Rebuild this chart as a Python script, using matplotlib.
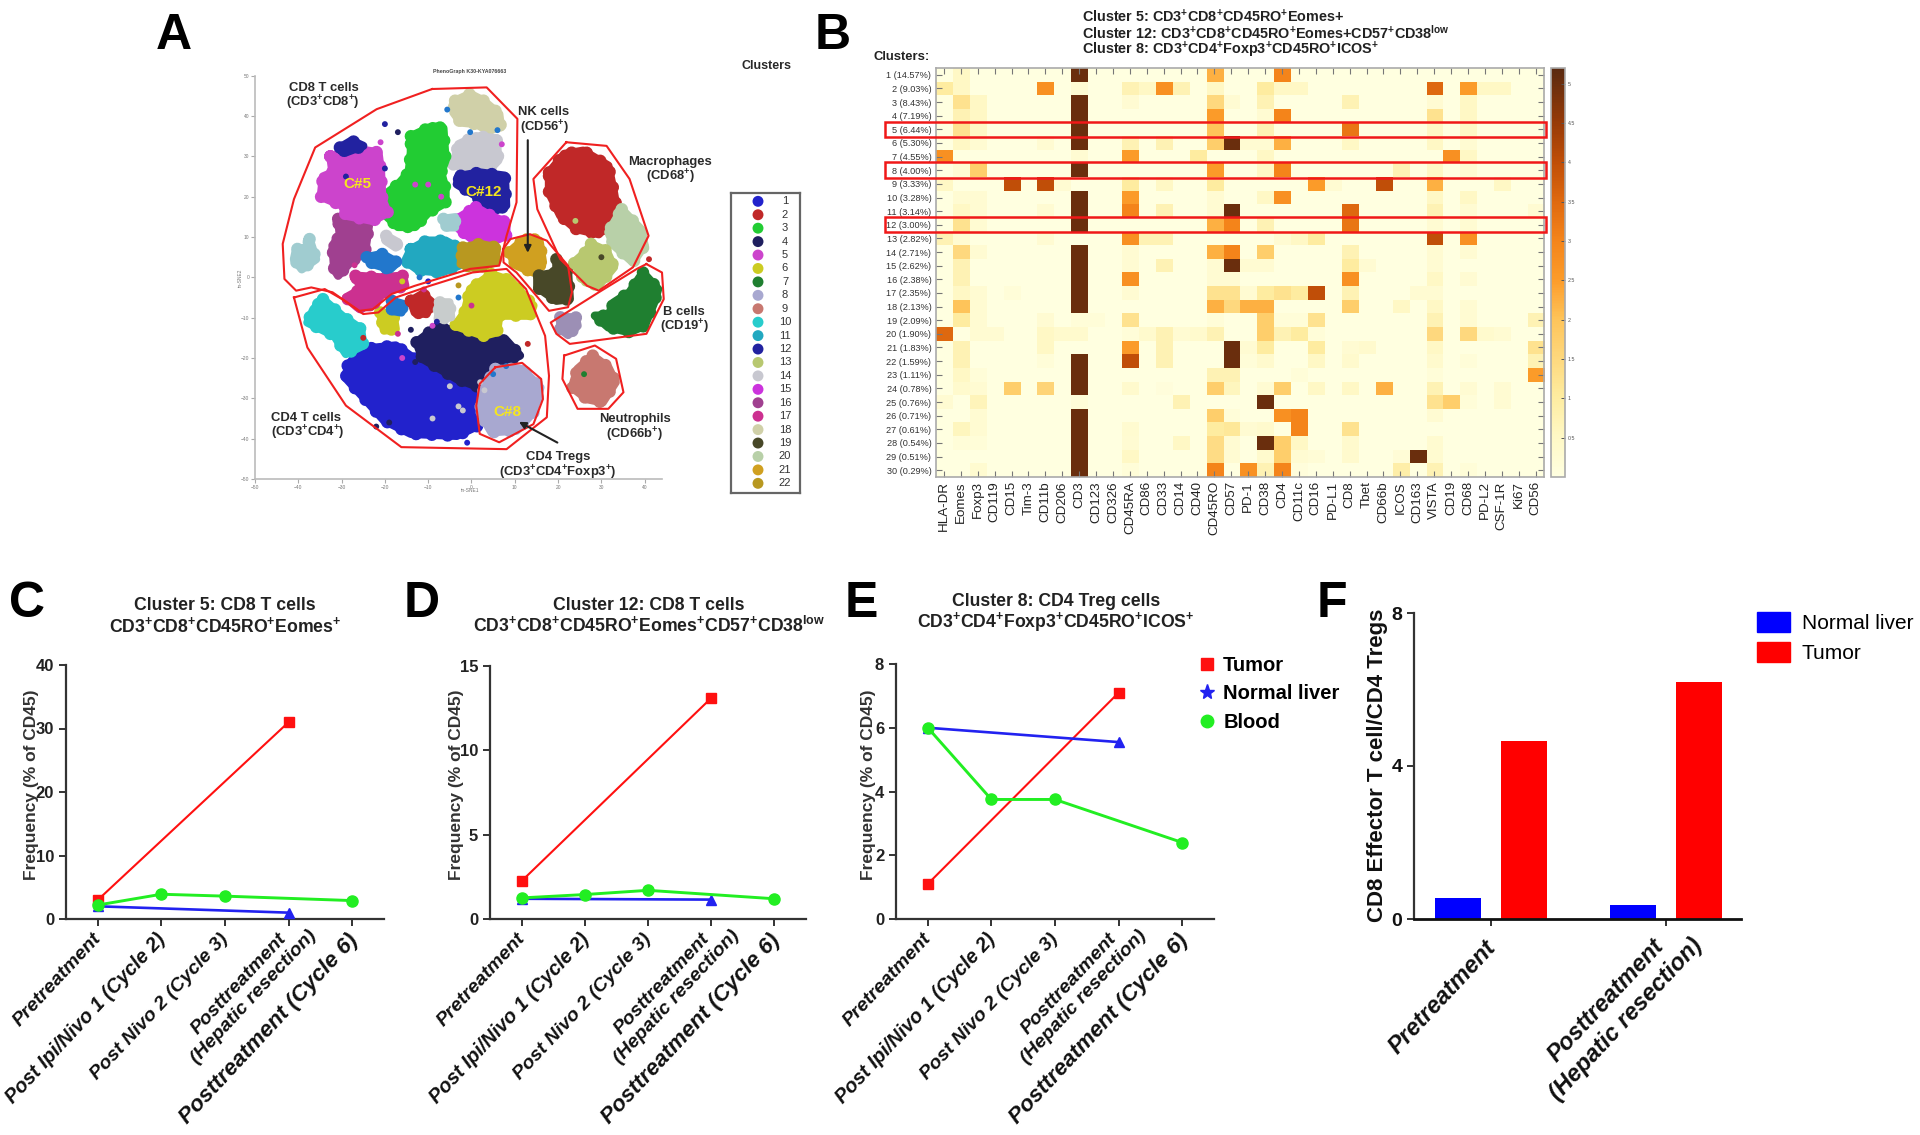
import numpy as np
import matplotlib
matplotlib.use("Agg")
import matplotlib.pyplot as plt
from matplotlib.colors import LinearSegmentedColormap
from matplotlib.lines import Line2D
from matplotlib.patches import Rectangle, Patch

plt.rcParams['font.family'] = ['Liberation Sans', 'DejaVu Sans']
plt.rcParams['mathtext.fontset'] = 'custom'
plt.rcParams['mathtext.rm'] = 'Liberation Sans'
plt.rcParams['mathtext.bf'] = 'Liberation Sans:bold'
plt.rcParams['mathtext.it'] = 'Liberation Sans:italic'

W, H = 1920, 1135
# ---------------------------------------------------------------- data
MARKERS = ["HLA-DR","Eomes","Foxp3","CD119","CD15","Tim-3","CD11b","CD206","CD3","CD123","CD326","CD45RA",
           "CD86","CD33","CD14","CD40","CD45RO","CD57","PD-1","CD38","CD4","CD11c","CD16","PD-L1","CD8","Tbet",
           "CD66b","ICOS","CD163","VISTA","CD19","CD68","PD-L2","CSF-1R","Ki67","CD56"]
ROW_LABELS = ["1 (14.57%)","2 (9.03%)","3 (8.43%)","4 (7.19%)","5 (6.44%)","6 (5.30%)","7 (4.55%)","8 (4.00%)",
              "9 (3.33%)","10 (3.28%)","11 (3.14%)","12 (3.00%)","13 (2.82%)","14 (2.71%)","15 (2.62%)","16 (2.38%)",
              "17 (2.35%)","18 (2.13%)","19 (2.09%)","20 (1.90%)","21 (1.83%)","22 (1.59%)","23 (1.11%)","24 (0.78%)",
              "25 (0.76%)","26 (0.71%)","27 (0.61%)","28 (0.54%)","29 (0.51%)","30 (0.29%)"]
# expression per cluster row, {marker column: value in half colour-bar units}
HEAT_CELLS = [
 {1:1,8:10,16:4.5,20:6},
 {0:2,1:1,6:5.5,8:.5,11:1.5,12:1,13:5.5,14:1.5,16:1,19:2,20:1,21:1,29:7,31:5,32:1,33:1},
 {1:2.5,2:1,8:10,11:.5,16:3,17:.5,19:1.5,24:1.5,29:.5,31:1},
 {1:1.5,2:1,8:10,16:5,19:.5,20:6,29:2.5,31:1},
 {1:2.5,2:1,8:10,16:4,19:1.5,24:6.5,29:1,31:1},
 {1:1,2:.5,6:.5,8:10,11:1.5,13:1.5,16:3.5,17:10,18:.5,19:.5,20:4.5,24:1,29:1,31:.5},
 {0:5.5,8:.5,11:5,15:2,19:1,30:5.5,31:1},
 {1:.5,2:3.5,8:10,16:5,19:1,20:6,27:1.5,29:1,31:.5},
 {0:1,4:8,6:8,7:.5,11:2,13:1,16:2,22:5,23:.5,26:8,29:4.5,33:1},
 {1:.5,2:.5,8:10,11:5,16:.5,19:1,20:5.5,29:1,31:1},
 {1:1,2:.5,6:.5,8:10,11:6,13:1.5,16:.5,17:10,24:7,29:1.5,31:.5,35:.5},
 {1:2.5,2:.5,8:10,16:4.5,17:6,19:1.5,24:6.5,29:.5,31:.5},
 {0:1.5,1:.5,6:.5,11:5.5,12:1.5,13:1.5,20:.5,21:1,22:2,29:8,31:5.5},
 {1:3,2:.5,8:10,11:.5,16:4.5,17:6,19:3.5,24:1.5,29:.5,31:.5},
 {1:1.5,8:10,11:.5,13:1.5,16:.5,17:10,18:.5,19:.5,24:2,25:.5,29:.5},
 {1:1.5,8:10,11:5.5,16:.5,17:.5,24:5.5,29:1,31:.5},
 {1:1,2:.5,4:.3,8:10,11:.5,16:2.5,17:2.5,18:.5,19:2,20:2.5,21:2,22:8,24:1.5,28:.5,29:.5},
 {1:4,2:.5,8:10,16:4.5,17:3,18:4.5,19:4.5,24:3.5,27:1,29:1,31:.5},
 {1:2,2:.5,6:.5,8:.3,9:.3,11:2.5,16:.3,19:3.5,20:.3,21:.3,22:2.5,29:1.5,31:.5,35:1.5},
 {0:7,2:.5,3:.5,6:1,7:.7,8:.7,11:.3,12:.7,13:1.5,14:.5,15:.7,16:1.5,19:3.5,20:1.5,21:2,22:.3,29:3,31:3,32:.7,33:.5},
 {1:1.5,6:1,11:5,13:1.5,17:10,18:.5,19:2,22:2,24:.5,25:.7,29:1,35:2.5},
 {1:1.5,6:.3,8:10,11:8,13:1.5,17:10,18:.3,19:.7,22:1,24:.7,29:.7,31:.3,35:1.5},
 {1:1,2:.3,8:10,16:1.5,17:1.5,21:.3,29:.3,35:5},
 {1:.7,2:.5,4:3.5,6:3.2,8:10,11:.7,13:.2,16:3.5,17:1.2,19:.5,20:3.5,22:1,24:1,26:4.5,29:1.5,31:.5,33:.5},
 {0:.5,2:1.3,8:.3,14:1.5,19:10,29:2.5,30:3.5,31:.3,33:.5},
 {2:.5,8:10,16:3.5,17:.3,20:5.5,21:6,29:.5},
 {1:1.2,2:.5,8:10,11:.6,16:2,17:2.2,18:.5,19:.7,21:6,24:2.5},
 {1:.3,2:.3,8:10,11:.5,14:1,16:2.8,17:.5,19:10,20:3.5,21:1,24:.7,29:.6},
 {8:10,11:1,16:2.8,17:.5,19:.7,20:3.5,21:.5,22:.4,24:.7,27:.4,28:10,29:.6},
 {2:.6,8:10,11:.3,16:6,18:5.5,19:1.5,20:6,21:.2,27:1.8,29:1.5,31:.3},
]
HIGHLIGHT_ROWS = [5, 8, 12]

CLUSTER_IDS = list(range(1, 23))
CLUSTER_COLORS = ['#2222CC','#C02828','#22CC33','#1F1F5F','#CC44CC','#CCCC22','#1F7F30','#A8A8D0','#C87870','#28CCCC',
                  '#22A8C0','#2222A0','#B8C870','#C8C8D0','#CC33DD','#A04090','#CC3090','#D0D0A8','#484828','#B8D0A8',
                  '#D0A020','#B89820']
BLOBS = [
 ('#2222CC',[(-28.6,-21.9),(-25.5,-17.8),(-17.5,-16.9),(-13.1,-20.2),(-6,-24.4),(1.9,-27.7),(1.5,-36.8),(-3.4,-39.3),(-14,-38.8),(-20.2,-35.5),(-24.6,-30.2),(-29,-25)]),
 ('#1F1F5F',[(-12.7,-16.1),(-7.8,-12),(1.1,-14.9),(8.1,-15.7),(11.2,-19.4),(6.4,-21.9),(1.9,-27.3),(-3.4,-25.2),(-11.3,-20.2)]),
 ('#A8A8D0',[(5.5,-22.7),(11.7,-22.7),(15.9,-27.3),(14.3,-33.5),(10.4,-38),(4.6,-38.4),(1.9,-33.5),(2.8,-27.7)]),
 ('#D0D0A8',[(-3.8,43.8),(-.3,45.5),(2.8,43.8),(6.4,40.5),(6.8,37.2),(3.7,36.4),(1.1,38),(-2.5,38.4),(-4.2,40.9)]),
 ('#C8C8D0',[(-4.2,28),(-3,33),(1,35),(5.8,34.5),(6.2,29),(4,26.5),(1,25.5),(-1.5,27)]),
 ('#22CC33',[(-14,35),(-9,37.5),(-6.5,37),(-6,29),(-7,26),(-6,22),(-6,18.5),(-10,16),(-13,12.5),(-17,12.5),(-20.5,16),(-20,20.5),(-17,23),(-14.5,26),(-14,31)]),
 ('#A04090',[(-30.8,14.5),(-24.2,15.3),(-23.7,12.8),(-24.6,6.2),(-28,3.7),(-30.8,.4),(-31.7,2),(-32.1,7.9),(-30.4,10.3)]),
 ('#CC44CC',[(-32.6,30),(-26.4,31.8),(-21.5,31),(-20.9,26),(-20.6,19.4),(-19.3,16),(-22.8,14),(-29,15.3),(-29.9,17.8),(-34.8,20),(-34.3,25),(-32.1,26)]),
 ('#2222A0',[(-30.4,32.2),(-27.7,33.9),(-25,32.6),(-29,31)]),
 ('#2222A0',[(-2.5,25.2),(1.9,26),(7.7,25.2),(8,17.8),(4.6,16),(1,20.2),(-3.4,23.1)]),
 ('#CC33DD',[(1,17.4),(3.7,15.7),(8.1,13.6),(8,10.3),(4.6,8.7),(1,8.7),(-2.9,12),(-3.4,14.5)]),
 ('#22A8C0',[(-14,7),(-10.4,9.1),(-6,9.1),(-2.5,7),(-2.9,2.9),(-6.9,1.2),(-12.2,1.7),(-15.3,4.1)]),
 ('#B89820',[(-2,7.4),(1.9,8.3),(5.9,7.4),(5.5,3.7),(1.1,2.2),(-2.5,3.3)]),
 ('#D0A020',[(8.6,6.2),(12.6,9.9),(15.7,9.1),(16.5,3.7),(14.3,1.2),(10.4,2.9)]),
 ('#484828',[(19.6,4.5),(22.3,1.2),(22.7,-5.4),(19.6,-5.8),(15.2,-2.5),(15.2,.4),(19.6,1.2)]),
 ('#C02828',[(17.9,26),(21.4,30.6),(25.8,31.4),(31.6,27.7),(32.9,21),(33.8,15.3),(29.4,10.7),(24.1,12),(20.5,15.3),(17.9,21)]),
 ('#B8D0A8',[(34.7,16.9),(39.1,12),(40,7.9),(37.3,3.7),(32.9,7.9),(31.6,11.2)]),
 ('#B8C870',[(27.6,8.3),(31.2,6.6),(32.9,2.5),(29.4,-2),(26.3,-1.2),(23.6,3.7),(26.3,6.2)]),
 ('#1F7F30',[(39.6,1.2),(43.1,-2.9),(42.2,-6.2),(40,-12),(36.5,-13.6),(31.6,-12.4),(28.5,-9.5),(31.6,-9.5),(32.9,-6.2),(36.5,-3.7)]),
 ('#C87870',[(28,-19.4),(31.6,-22.3),(33.3,-26),(30.3,-31),(26.7,-30.2),(23.2,-27.3),(24.5,-22.7)]),
 ('#9C8FB5',[(20.5,-9.9),(24.1,-9.9),(24.5,-12),(22.3,-14.3),(20.5,-12.8)]),
 ('#28CCCC',[(-34.3,-5.4),(-29.9,-9.5),(-25.5,-12.8),(-25,-16.9),(-29,-19),(-31.7,-14.5),(-37.9,-11.2),(-36.5,-7.9)]),
 ('#CCCC22',[(4.6,.8),(9,-.8),(14.3,-7),(13.5,-9.5),(6.4,-9.5),(5.9,-13.6),(2.8,-14.5),(-3.8,-12),(-1.6,-8.7),(-.3,-2.9)]),
 ('#CCCC22',[(-21.1,-8.7),(-18,-9.5),(-17.5,-12.8),(-20.2,-13.2)]),
 ('#CC3090',[(-26.8,.4),(-21.1,0),(-15.8,.4),(-15.3,-2.1),(-20.2,-3.7),(-23.3,-7.4),(-26.4,-7.4),(-29,-5),(-25.5,-2.9)]),
 ('#2277CC',[(-24.2,5),(-20.6,5.8),(-17.1,3.7),(-18.8,2),(-22.8,3.3)]),
 ('#2277CC',[(-18.4,-5.8),(-15.8,-6.6),(-16.2,-8.7),(-18.4,-8.3)]),
 ('#C02828',[(-14,-5.8),(-11.3,-4.1),(-9.1,-6.2),(-10.4,-9.1),(-13.1,-8.7)]),
 ('#C8CCCC',[(-7.3,-6.2),(-5.1,-6.2),(-4.7,-9.9),(-7.8,-10.3)]),
 ('#A0CCD0',[(-37.4,9.5),(-35.9,4.5),(-39.2,2),(-41,4.5),(-40.5,7),(-37.9,7.4)]),
 ('#A0CCD0',[(-6.5,14.5),(-3.8,14.9),(-3.8,12.4),(-5.6,12.4)]),
 ('#C8C8D0',[(-19.7,10.3),(-17,8.7),(-17.5,7.4),(-19.3,8.7)]),
]
STRAY_X = [-5.6,-.3,6,-13,-10,-7,-20,-17,-21,-29,13,41,-5,-3,-9,-4,-13,-7,-11,-16,-3,4,2,-27,-22,-14,-1,8,26,-19,
           -17,-14,-9,-25,-3,0,-10,-16,-12,-8,3,5,-2,-20,7,-23,30,24]
STRAY_Y = [41.6,36,36.5,23,23,20,27,36,33.5,25,-16.5,4.5,-27,-32,-35,-39,-21,-18,-3,-20,-2,-3,-26,3,-37,-37,-41,-22,-24,-36,
           -14,-13,-12,-15,-5,-7,-1,-1,0,-11,-28,-24,-33,38,33,23,5,14]
STRAY_C = ['#2277CC','#2277CC','#2277CC','#CC44CC','#CC44CC','#CC44CC','#2222A0','#1F1F5F','#CC44CC','#2222A0',
           '#C02828','#C02828','#C8C8D0','#C8C8D0','#C8C8D0','#2222CC','#1F1F5F','#1F1F5F','#CC3090','#CC44CC',
           '#B89820','#CCCC22','#C8C8D0','#CC3090','#1F1F5F','#2222CC','#2222CC','#2277CC','#1F7F30','#1F1F5F',
           '#CC3090','#1F1F5F','#CC44CC','#C02828','#2277CC','#CC3090','#2222CC','#CCCC22','#2277CC','#2222A0',
           '#C8C8D0','#2277CC','#C8C8D0','#2222A0','#CC44CC','#CC44CC','#484828','#B8C870']
# red gates: name -> closed outline in axis units
GATE_CD8 = [(-9.1,46.7),(3.5,47.1),(10.6,39.3),(10.4,18.6),(8.1,10.3),(6.4,2.9),(-.3,2.1),(-13.1,-2.1),(-18.4,-4.1),(-22.8,-7.9),(-25.9,-8.3),(-32.1,-3.7),(-37,-2.5),(-40.5,-3.3),(-43.2,-.4),(-43.6,8.3),(-41,19.4),(-36.1,32.2),(-21.9,41.7)]
GATE_CD4 = [(-41,-5),(-33.9,-2.9),(-29.9,-5.4),(-25,-9.1),(-21.5,-8.7),(-17.5,-5),(-9.6,-2.1),(.2,1.2),(8.1,2.1),(12.6,-2.9),(17,-14.5),(17.9,-24.4),(17.4,-34.7),(8.1,-42.6),(-16.2,-42.1),(-29,-31.8),(-37.9,-17.4)]
GATE_NK = [(7.3,7),(9,9.5),(13.5,10.7),(17.4,9.1),(22.3,2.9),(23.2,-3.7),(22.3,-7.4),(17.9,-8.3),(14.3,-3.7),(10.4,1.2),(7.4,3.7)]
GATE_MAC = [(21.9,33.5),(31.2,32.6),(36.5,24.4),(40.9,10.3),(37.3,2.5),(29.4,-3.3),(26.7,-2.1),(20.5,4.5),(15.2,16.9),(14.3,24.4)]
GATE_B = [(40.4,3.3),(44,1.2),(44.4,-5.4),(40.4,-14),(22.7,-16.5),(19.6,-14),(18.3,-11.2),(29.4,-3.7),(38.2,2.1)]
GATE_NEU = [(21.4,-19.4),(28.5,-16.9),(33.4,-20.2),(35.1,-28.5),(31.6,-32.6),(24.5,-32.6),(21,-25.2)]
GATE_TREG = [(5.5,-22.3),(11.7,-21.2),(16.1,-25.2),(16.5,-30.2),(14.3,-36.4),(6.4,-40.9),(1.9,-38.8),(1.1,-31.8),(1.9,-26.4)]

TIMEPOINTS = ["Pretreatment","Post Ipi/Nivo 1 (Cycle 2)","Post Nivo 2 (Cycle 3)","Posttreatment\n(Hepatic resection)","Posttreatment (Cycle 6)"]
TUMOR_C = [3,None,None,31,None];  LIVER_C = [2,None,None,1,None];      BLOOD_C = [2.2,3.9,3.6,None,2.9]
TUMOR_D = [2.25,None,None,13.1,None]; LIVER_D = [1.2,None,None,1.15,None]; BLOOD_D = [1.25,1.45,1.7,None,1.2]
TUMOR_E = [1.1,None,None,7.1,None]; LIVER_E = [6,None,None,5.55,None]; BLOOD_E = [6,3.75,3.75,None,2.4]
RATIO_GROUPS = ["Pretreatment","Posttreatment\n(Hepatic resection)"]
RATIO_LIVER = [0.56,0.37]
RATIO_TUMOR = [4.65,6.2]

# ---------------------------------------------------------------- helpers
fig = plt.figure(figsize=(W/100, H/100), dpi=100, facecolor='white')
def ax_px(l, t, r, b, **kw):
    return fig.add_axes([l/W, 1-b/H, (r-l)/W, (b-t)/H], **kw)
def T(x, y, s, **kw):
    kw.setdefault('ha', 'center'); kw.setdefault('va', 'center'); kw.setdefault('color', '#1a1a1a')
    return fig.text(x/W, 1-y/H, s, **kw)

for s, x, y in [("A",174,36),("B",833,36),("C",27,604),("D",422,604),("E",861,604),("F",1332,604)]:
    T(x, y, s, fontsize=36, fontweight='bold', color='black')

# ---------------------------------------------------------------- A: t-SNE map
axA = ax_px(255, 75.7, 662, 479)
axA.set_xlim(-50, 40+4); axA.set_ylim(-50, 50)
for c, pts in BLOBS:
    xs, ys = zip(*(pts + pts[:1]))
    axA.fill(xs, ys, facecolor=c, edgecolor=c, lw=6, joinstyle='round', zorder=2)
    axA.plot(xs, ys, color=c, lw=9, ls=(0, (0.01, 1.25)), dash_capstyle='round', zorder=2)
axA.scatter(STRAY_X, STRAY_Y, c=STRAY_C, s=18, zorder=3, linewidths=0)
for g in [GATE_CD8, GATE_CD4, GATE_NK, GATE_MAC, GATE_B, GATE_NEU, GATE_TREG]:
    xs, ys = zip(*(g + g[:1]))
    axA.plot(xs, ys, color='#F02020', lw=1.5, zorder=4, clip_on=False)
axA.annotate('', xy=(13, 5.4), xytext=(13, 34.7), zorder=6, annotation_clip=False,
             arrowprops=dict(arrowstyle='-|>', color='#222222', lw=1.5))
axA.annotate('', xy=(10.4, -35.5), xytext=(20.4, -41.3), zorder=6, annotation_clip=False,
             arrowprops=dict(arrowstyle='-|>', color='#222222', lw=1.5))
axA.set_xticks(range(-50, 50, 10)); axA.set_yticks(range(-50, 60, 10))
axA.tick_params(labelsize=3.5, length=3, width=.8, color='#aaaaaa', labelcolor='#777777', pad=1)
for sp in ['top', 'right']:
    axA.spines[sp].set_visible(False)
for sp in ['left', 'bottom']:
    axA.spines[sp].set_color('#bbbbbb'); axA.spines[sp].set_linewidth(1.2)
T(470, 71, "PhenoGraph K30-KYA076663", fontsize=3.8, fontweight='bold', color='#444444')
T(470, 491, "tn-SNE1", fontsize=3.5, color='#777777')
T(240, 278, "tn-SNE2", fontsize=3.5, color='#777777', rotation=90)
lab = dict(fontsize=9.4, fontweight='bold', color='#2a2a2a')
T(324, 88, "CD8 T cells", **lab)
T(323, 103, r"(CD3$\mathbf{^{+}}$CD8$\mathbf{^{+}}$)", **lab)
T(544, 112, "NK cells", **lab)
T(544, 128, r"(CD56$\mathbf{^{+}}$)", **lab)
T(670, 162, "Macrophages", **lab)
T(670, 177, r"(CD68$\mathbf{^{+}}$)", **lab)
T(684, 312, "B cells", **lab)
T(684, 327, r"(CD19$\mathbf{^{+}}$)", **lab)
T(634.5, 419, "Neutrophils", **lab)
T(634, 435, r"(CD66b$\mathbf{^{+}}$)", **lab)
T(558, 457, "CD4 Tregs", **lab)
T(558, 473, r"(CD3$\mathbf{^{+}}$CD4$\mathbf{^{+}}$Foxp3$\mathbf{^{+}}$)", **lab)
T(306, 418, "CD4 T cells", **lab)
T(308, 433, r"(CD3$\mathbf{^{+}}$CD4$\mathbf{^{+}}$)", **lab)
for x, y, s in [(357.5,184,"C#5"),(484,192,"C#12"),(507,412,"C#8")]:
    T(x, y, s, fontsize=11, fontweight='bold', color='#F5E61E', zorder=7)
T(766, 66, "Clusters", fontsize=9, fontweight='bold', color='#2a2a2a')

axL = ax_px(731, 193, 800, 493)
axL.set_xlim(0, 69)
axL.scatter([27]*22, CLUSTER_IDS, c=CLUSTER_COLORS, s=62, linewidths=0)
for i in CLUSTER_IDS:
    axL.text(54, i, str(i), fontsize=8, ha='center', va='center', color='#333333')
axL.set_ylim(22.72, 0.38)
axL.set_xticks([]); axL.set_yticks([])
for sp in axL.spines.values():
    sp.set_color('#666666'); sp.set_linewidth(1.6)

# ---------------------------------------------------------------- B: heatmap
matrix = np.zeros((len(ROW_LABELS), len(MARKERS)))
for r, cells in enumerate(HEAT_CELLS):
    for c, v in cells.items():
        matrix[r, c] = v / 2
cmap = LinearSegmentedColormap.from_list('ylorbr_like', [
    (0.0,'#FFFFE0'),(0.1,'#FFF8C4'),(0.2,'#FEEB9E'),(0.385,'#FEC45A'),(0.48,'#FC9C2A'),(0.58,'#F4841A'),
    (0.67,'#E06A10'),(0.77,'#C04E08'),(0.87,'#963A08'),(1.0,'#5A2A10')])
axB = ax_px(935.5, 68, 1544, 477)
im = axB.imshow(matrix, cmap=cmap, vmin=0, vmax=5.2, aspect='auto', interpolation='nearest')
axB.set_xticks(range(len(MARKERS))); axB.set_xticklabels(MARKERS, rotation=90, fontsize=9.6, color='#222222')
axB.set_yticks(range(len(ROW_LABELS))); axB.set_yticklabels(ROW_LABELS, fontsize=6.6, color='#333333')
axB.tick_params(axis='both', direction='in', length=4, width=.8, color='#777777', top=True, right=True, pad=3)
for sp in axB.spines.values():
    sp.set_color('#aaaaaa'); sp.set_linewidth(1.2)
for r in HIGHLIGHT_ROWS:
    y0 = 68 + (r-1)*409/30
    fig.add_artist(Rectangle((885/W, 1-(y0+14.5)/H), (1546-885)/W, 15.5/H, transform=fig.transFigure,
                             fill=False, ec='#F01818', lw=1.8, zorder=6))
axC_bar = ax_px(1551, 68, 1565, 477)
cb = fig.colorbar(im, cax=axC_bar, ticks=np.arange(.5, 5.01, .5))
cb.ax.set_yticklabels(['0.5','1','1.5','2','2.5','3','3.5','4','4.5','5'])
cb.ax.tick_params(labelsize=3.8, length=3, width=.7, direction='in', color='#555555', labelcolor='#555555', pad=2)
cb.outline.set_edgecolor('#aaaaaa'); cb.outline.set_linewidth(1.2)
tb = dict(ha='left', fontsize=10.4, fontweight='bold', color='#222222')
T(1082, 17, r"Cluster 5: CD3$\mathbf{^{+}}$CD8$\mathbf{^{+}}$CD45RO$\mathbf{^{+}}$Eomes+", **tb)
T(1082, 33, r"Cluster 12: CD3$\mathbf{^{+}}$CD8$\mathbf{^{+}}$CD45RO$\mathbf{^{+}}$Eomes+CD57$\mathbf{^{+}}$CD38$\mathbf{^{low}}$", **tb)
T(1082, 50, r"Cluster 8: CD3$\mathbf{^{+}}$CD4$\mathbf{^{+}}$Foxp3$\mathbf{^{+}}$CD45RO$\mathbf{^{+}}$ICOS$\mathbf{^{+}}$", **tb)
T(873, 57, "Clusters:", ha='left', fontsize=9.4, fontweight='bold', color='#222222')

# ---------------------------------------------------------------- C, D, E: time courses
def style_axes(ax):
    for sp in ['top', 'right']:
        ax.spines[sp].set_visible(False)
    for sp in ['left', 'bottom']:
        ax.spines[sp].set_color('#333333'); ax.spines[sp].set_linewidth(1.6)
    ax.tick_params(axis='both', width=1.4, length=5, color='#333333')

def series(ax, vals, color, marker, lw, ms):
    x = [i for i, v in enumerate(vals) if v is not None]
    y = [v for v in vals if v is not None]
    return ax.plot(x, y, color=color, marker=marker, lw=lw, ms=ms, mec=color, clip_on=False, zorder=3)[0]

def xlabels(ax):
    ax.set_xticks(range(len(TIMEPOINTS)))
    ax.set_xticklabels([])
    sizes = [14, 14.3, 14, 14, 16.2]
    offs = [(-4, -8), (-4, -8), (-4, -8), (3, 4), (-4, -8)]
    for i, s in enumerate(TIMEPOINTS):
        ax.annotate(s, xy=(i, 0), xycoords=('data', 'axes fraction'), xytext=offs[i], textcoords='offset points',
                    rotation=47, rotation_mode='anchor', ha='right', va='top', fontsize=sizes[i],
                    fontweight='bold', fontstyle='italic', color='#111111', multialignment='center', linespacing=1.25)

def panel(box, ymax, yticks, tumor, liver, blood, ylab_x):
    ax = ax_px(*box)
    ax.set_xlim(-.5, 4.5); ax.set_ylim(0, ymax)
    h = [series(ax, tumor, '#FF1010', 's', 1.5, 7), series(ax, liver, '#2222F0', '^', 1.9, 7), series(ax, blood, '#22EE22', 'o', 2.1, 8)]
    ax.set_yticks(yticks)
    ax.set_yticklabels([str(v) for v in yticks], fontsize=12, fontweight='bold', color='#222222')
    style_axes(ax); xlabels(ax)
    T(ylab_x, 785, "Frequency (% of CD45)", rotation=90, fontsize=12.5, fontweight='bold', color='#333333')
    return ax, h

panel((66, 665, 384, 919), 40, [0,10,20,30,40], TUMOR_C, LIVER_C, BLOOD_C, 32)
panel((490, 666, 806, 919), 15, [0,5,10,15], TUMOR_D, LIVER_D, BLOOD_D, 457)
axE, handles = panel((896, 664, 1214, 919), 8, [0,2,4,6,8], TUMOR_E, LIVER_E, BLOOD_E, 869)
leg_handles = [Line2D([], [], color='#FF1010', marker='s', ms=8, ls=''), Line2D([], [], color='#2222F0', marker='*', ms=11, ls=''),
               Line2D([], [], color='#22EE22', marker='o', ms=9, ls='')]
fig.legend(leg_handles, ["Tumor","Normal liver","Blood"], loc='upper left', bbox_to_anchor=(1193/W, 1-656/H), frameon=False,
           prop=dict(size=14.5, weight='bold'), labelspacing=.47, handletextpad=.1, handlelength=1.4, borderpad=0, borderaxespad=0)

tt = dict(fontsize=12.7, fontweight='bold', color='#222222')
T(225, 606, "Cluster 5: CD8 T cells", **tt)
T(225, 626, r"CD3$\mathbf{^{+}}$CD8$\mathbf{^{+}}$CD45RO$\mathbf{^{+}}$Eomes$\mathbf{^{+}}$", **tt)
T(649, 605, "Cluster 12: CD8 T cells", **tt)
T(649, 626, r"CD3$\mathbf{^{+}}$CD8$\mathbf{^{+}}$CD45RO$\mathbf{^{+}}$Eomes$\mathbf{^{+}}$CD57$\mathbf{^{+}}$CD38$\mathbf{^{low}}$", **tt)
T(1056, 602, "Cluster 8: CD4 Treg cells", **tt)
T(1056, 622, r"CD3$\mathbf{^{+}}$CD4$\mathbf{^{+}}$Foxp3$\mathbf{^{+}}$CD45RO$\mathbf{^{+}}$ICOS$\mathbf{^{+}}$", **tt)

# ---------------------------------------------------------------- F: ratio bars
axF = ax_px(1414, 613, 1741, 919)
axF.set_xlim(-.44, 1.43); axF.set_ylim(0, 8)
gx = np.arange(len(RATIO_GROUPS))
axF.bar(gx-.187, RATIO_LIVER, width=.263, color='#0000FF', zorder=2)
axF.bar(gx+.187, RATIO_TUMOR, width=.263, color='#FF0000', zorder=2)
axF.set_yticks([0,4,8])
axF.set_yticklabels(['0','4','8'], fontsize=14, fontweight='bold', color='#111111')
style_axes(axF)
axF.spines['bottom'].set_color('#111111'); axF.spines['bottom'].set_linewidth(2)
axF.set_xticks(gx); axF.set_xticklabels([])
for i, s, off in zip(gx, RATIO_GROUPS, [(-5, -12), (3, 3)]):
    axF.annotate(s, xy=(i, 0), xycoords=('data', 'axes fraction'), xytext=off, textcoords='offset points',
                 rotation=47, rotation_mode='anchor', ha='right', va='top', fontsize=17, fontweight='bold',
                 fontstyle='italic', color='#111111', multialignment='center', linespacing=1.25)
T(1377, 765, "CD8 Effector T cell/CD4 Tregs", rotation=90, fontsize=16, fontweight='bold', color='#111111')
fig.legend([Patch(color='#0000FF'), Patch(color='#FF0000')], ["Normal liver","Tumor"], loc='upper left',
           bbox_to_anchor=(1757/W, 1-612/H), frameon=False, prop=dict(size=15), labelspacing=.42, handlelength=1.6,
           handleheight=1.1, handletextpad=.55, borderpad=0, borderaxespad=0)

fig.savefig("out.png", dpi=100)
